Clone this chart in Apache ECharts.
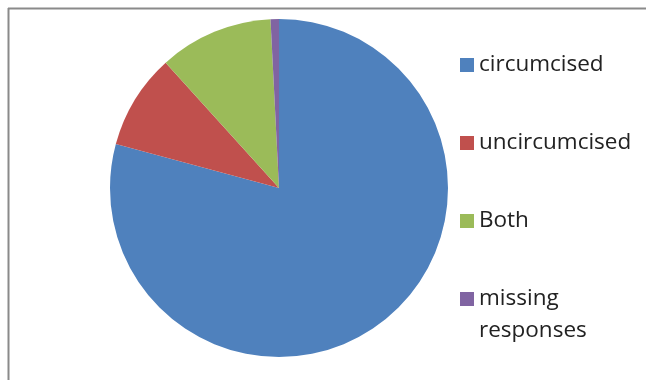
<!DOCTYPE html>
<html>
<head>
<meta charset="utf-8">
<script src="https://cdn.jsdelivr.net/npm/echarts@6/dist/echarts.min.js"></script>
<style>
  html, body { margin: 0; padding: 0; background: #fff; overflow: hidden; }
  #chart { width: 646px; height: 380px; }
</style>
</head>
<body>
<div id="chart"></div>
<script>
// Responses, in percent of all respondents
const categories = ['circumcised', 'uncircumcised', 'Both', 'missing responses'];
const shares = [79.2, 9.1, 10.9, 0.8];
const colors = ['#4F81BD', '#C0504D', '#9BBB59', '#8064A2'];

const chart = echarts.init(document.getElementById('chart'));

const LINE = 32;
const textStyle = {
  fontFamily: 'Open Sans',
  fontSize: 22.5,
  color: '#222',
  lineHeight: LINE
};

// One legend block per category; rows are centred at these y positions
const rowCentres = [65, 143, 221, 299];
const legends = categories.map((name, i) => {
  const twoLine = name === 'missing responses';
  // the wrapped entry gets a blank first line so its marker stays level with "missing"
  const lines = twoLine ? 3 : 1;
  return {
    orient: 'vertical',
    left: 455,
    top: rowCentres[i] - (lines * LINE) / 2 - 5,
    padding: 5,
    data: [name],
    icon: 'rect',
    itemWidth: 14,
    itemHeight: 14,
    itemGap: 0,
    selectedMode: false,
    formatter: twoLine ? () => ' \nmissing\nresponses' : undefined,
    textStyle: textStyle
  };
});

chart.setOption({
  animation: false,
  color: colors,
  legend: legends,
  graphic: [
    {
      type: 'line',
      shape: { x1: 8, y1: 8.5, x2: 700, y2: 8.5 },
      style: { stroke: '#8a8a8a', lineWidth: 2 },
      silent: true
    },
    {
      type: 'line',
      shape: { x1: 8.5, y1: 8, x2: 8.5, y2: 400 },
      style: { stroke: '#8a8a8a', lineWidth: 2 },
      silent: true
    }
  ],
  series: [{
    type: 'pie',
    center: [279, 188],
    radius: 169,
    startAngle: 90,
    clockwise: true,
    label: { show: false },
    labelLine: { show: false },
    itemStyle: { borderWidth: 0 },
    emphasis: { disabled: true },
    data: categories.map((name, i) => ({ name, value: shares[i] }))
  }]
});
</script>
</body>
</html>
